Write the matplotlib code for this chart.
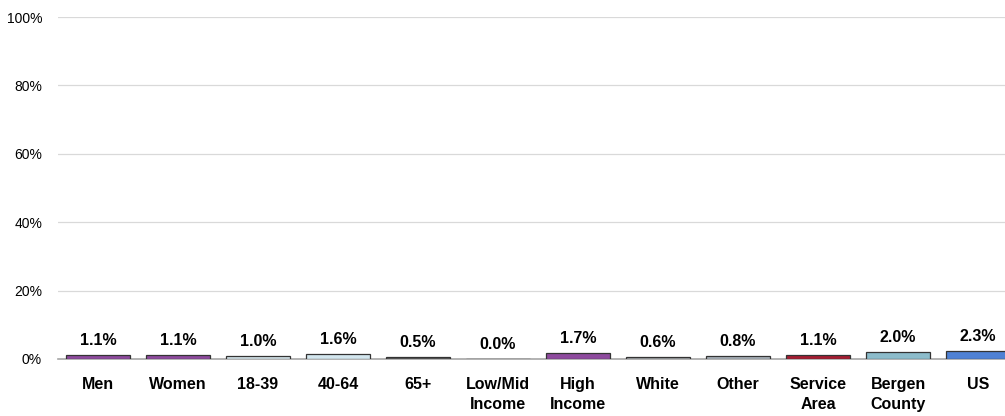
import matplotlib
matplotlib.use("Agg")
import matplotlib.pyplot as plt

categories = ["Men", "Women", "18-39", "40-64", "65+", "Low/Mid\nIncome", "High\nIncome",
              "White", "Other", "Service\nArea", "Bergen\nCounty", "US"]
values = [1.1, 1.1, 1.0, 1.6, 0.5, 0.0, 1.7, 0.6, 0.8, 1.1, 2.0, 2.3]
colors = ["#8e4a9e", "#8e4a9e", "#d3e2e8", "#d3e6ee", "#5a5a5a", "#8e4a9e", "#8e4a9e",
          "#a9adb0", "#aab4bc", "#a51d32", "#8cbccb", "#4f81d4"]
yticks = [0, 20, 40, 60, 80, 100]

plt.rcParams['font.family'] = ['Liberation Sans', 'DejaVu Sans']
fig = plt.figure(figsize=(10.05, 4.16), dpi=100)
ax = fig.add_axes([58/1005, 1 - 359/416, 960/1005, (359 - 17)/416])

x = list(range(len(categories)))
ax.bar(x, values, width=0.81, color=colors, edgecolor="#333333", linewidth=0.9, zorder=3)
for xi, v in zip(x, values):
    ax.annotate(f"{v:.1f}%", (xi, v), xytext=(0, 5), textcoords="offset points",
                ha="center", va="bottom", fontsize=11.5, fontweight="bold")

ax.set_xlim(-0.5, len(categories) - 0.5)
ax.set_ylim(0, 100)
ax.set_yticks(yticks)
ax.set_yticklabels([f"{t}%" for t in yticks], fontsize=10)
ax.set_xticks(x)
ax.set_xticklabels(categories, fontsize=11.5, fontweight="bold", va="top", linespacing=1.45)
ax.tick_params(axis="both", length=0)
ax.tick_params(axis="x", pad=13)
ax.tick_params(axis="y", pad=11.5)
ax.grid(axis="y", color="#d9d9d9", linewidth=0.9, zorder=0)
for s in ["top", "right", "left"]:
    ax.spines[s].set_visible(False)
ax.spines["bottom"].set_color("#a6a6a6")
ax.spines["bottom"].set_linewidth(1.2)

fig.savefig("out.png", dpi=100)
